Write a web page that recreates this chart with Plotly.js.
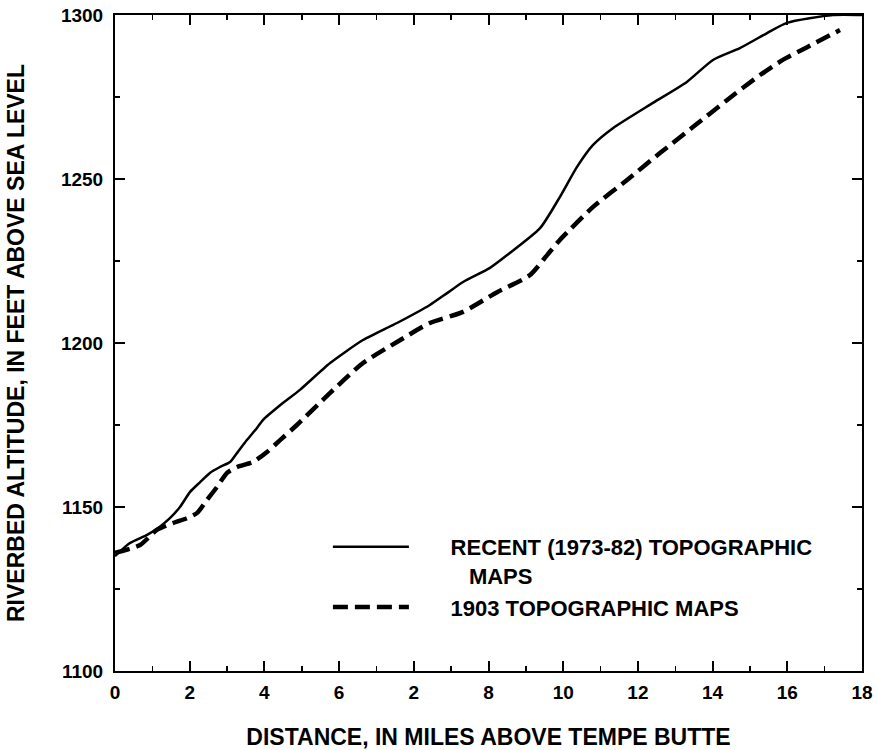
<!DOCTYPE html>
<html><head><meta charset="utf-8">
<script src="https://cdn.plot.ly/plotly-3.0.1.min.js"></script>
<style>body{margin:0;background:#fff}#chart{width:877px;height:750px}</style>
</head><body><div id="chart"></div>
<script>
// Axis positions (tick slots) and printed tick labels as they appear on the figure
const tickPositions = [0, 2, 4, 6, 8, 10, 12, 14, 16, 18, 20];
const tickLabels = ["0", "2", "4", "6", "2", "8", "10", "12", "14", "16", "18"];
const yTicks = [1100, 1150, 1200, 1250, 1300];

// Recent (1973-82) topographic maps
const recentX = [0, 0.40, 0.86, 1.20, 1.47, 1.74, 2.01, 2.28, 2.54, 2.81, 3.08, 3.27, 3.53, 3.80, 3.96, 4.42, 4.95, 5.76, 6.64, 7.55, 8.43, 8.89, 9.32, 10.04, 10.50, 11.38, 11.91, 12.37, 12.80, 13.33, 14.40, 15.31, 16.01, 16.73, 17.46, 17.99, 19.22, 20.0];
const recentY = [1135, 1139, 1141.5, 1144, 1146.6, 1150, 1154.6, 1157.6, 1160.4, 1162.2, 1163.7, 1166.5, 1170.4, 1174.1, 1176.5, 1181, 1185.7, 1193.9, 1200.9, 1206.1, 1211.6, 1215.2, 1218.6, 1222.9, 1226.8, 1235, 1244.5, 1253.7, 1260.4, 1265.5, 1273.2, 1279.6, 1286.3, 1289.9, 1294.5, 1297.6, 1300, 1300];

// 1903 topographic maps
const oldX = [0, 0.67, 1.12, 1.55, 1.93, 2.20, 2.46, 2.73, 3.00, 3.27, 3.69, 4.07, 4.42, 4.87, 5.76, 6.64, 7.55, 8.43, 9.32, 10.23, 11.11, 11.57, 11.91, 12.80, 13.71, 14.59, 15.48, 16.39, 17.27, 17.88, 18.53, 19.41];
const oldY = [1136, 1138.4, 1143, 1145.1, 1146.6, 1148.2, 1152.1, 1156.1, 1160.4, 1162.2, 1163.7, 1166.8, 1170.4, 1175, 1184.8, 1193.9, 1200.3, 1206.1, 1209.5, 1215.5, 1220.7, 1226.8, 1231.4, 1241.5, 1249.7, 1257.9, 1265.9, 1274.1, 1281.7, 1286.3, 1290.2, 1295.4];

const NB = '\u00a0';
const pad = NB.repeat(6);

const fam = 'Liberation Sans, Arial, Helvetica, sans-serif';
const tickFont = {family: fam, size: 19, color: '#000', weight: 'bold'};
const titleFont = {family: fam, size: 23, color: '#000', weight: 'bold'};
const legendFont = {family: fam, size: 22, color: '#000', weight: 'bold'};

const traces = [
  {x: recentX, y: recentY, mode: 'lines', line: {color: '#000', width: 2.5, shape: 'spline', smoothing: 0.6},
   name: pad + 'RECENT (1973-82) TOPOGRAPHIC<br>' + pad + NB.repeat(3) + 'MAPS'},
  {x: oldX, y: oldY, mode: 'lines', line: {color: '#000', width: 4.5, dash: '15px,7px', shape: 'spline', smoothing: 0.6},
   name: pad + '1903 TOPOGRAPHIC MAPS'}
];

const axisCommon = {
  showgrid: false, zeroline: false, showline: true, linecolor: '#000', linewidth: 2,
  mirror: 'ticks', ticks: 'inside', ticklen: 10, tickwidth: 2, tickcolor: '#000',
  tickfont: tickFont
};

const layout = {
  width: 877, height: 750,
  margin: {l: 115, r: 15, t: 15, b: 79},
  paper_bgcolor: '#fff', plot_bgcolor: '#fff',
  font: tickFont,
  showlegend: true,
  legend: {x: 0.285, y: 0.221, xanchor: 'left', yanchor: 'top', bgcolor: 'rgba(0,0,0,0)', valign: 'top',
           font: legendFont, itemwidth: 76, tracegroupgap: 0, traceorder: 'normal'},
  xaxis: Object.assign({}, axisCommon, {
    range: [0, 20], tickvals: tickPositions, ticktext: tickLabels, ticklabelstandoff: 3,
    minor: {dtick: 1, ticks: 'inside', ticklen: 5, tickwidth: 1.5, tickcolor: '#000', showgrid: false},
    title: {text: 'DISTANCE, IN MILES ABOVE TEMPE BUTTE', font: titleFont, standoff: 30}
  }),
  yaxis: Object.assign({}, axisCommon, {
    range: [1100, 1300], tickvals: yTicks, ticklabelstandoff: 6,
    minor: {dtick: 25, ticks: 'inside', ticklen: 5, tickwidth: 1.5, tickcolor: '#000', showgrid: false},
    title: {text: 'RIVERBED ALTITUDE, IN FEET ABOVE SEA LEVEL', font: titleFont, standoff: 30}
  })
};

Plotly.newPlot('chart', traces, layout, {displayModeBar: false, staticPlot: true});
</script></body></html>
